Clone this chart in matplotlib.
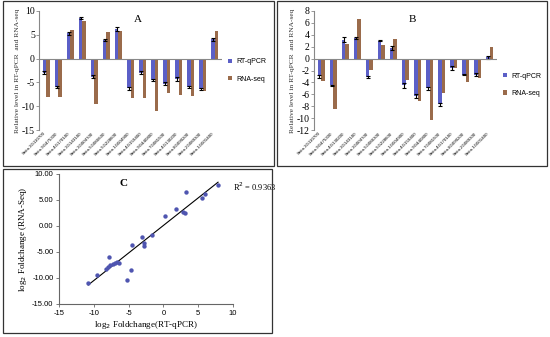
import numpy as np
import matplotlib
matplotlib.use("Agg")
import matplotlib.pyplot as plt
from matplotlib.patches import Rectangle

# gene ids (rotated tick labels, too small to read exactly in the source)
genes_a = ["Seita.3G110700", "Seita.9G475300", "Seita.4G170100", "Seita.3G143100",
           "Seita.3G004700", "Seita.5G086600", "Seita.5G228600", "Seita.1G004900",
           "Seita.4G159400", "Seita.9G440800", "Seita.7G081500", "Seita.4G130200",
           "Seita.8G090200", "Seita.2G089300", "Seita.1G001400"]
genes_b = ["Seita.3G110700", "Seita.9G475300", "Seita.4G130200", "Seita.3G143100",
           "Seita.3G004700", "Seita.5G086300", "Seita.5G228600", "Seita.1G004900",
           "Seita.4G159400", "Seita.9G440800", "Seita.7G081500", "Seita.4G170100",
           "Seita.8G090200", "Seita.2G089300", "Seita.1G001400"]

qpcr_a = [-3.0, -6.0, 5.3, 8.5, -3.8, 4.0, 6.2, -6.2, -3.0, -4.5, -5.3, -4.3, -6.0, -6.4, 4.1]
rnaseq_a = [-8.0, -8.0, 6.1, 7.8, -9.5, 5.5, 5.7, -8.3, -8.2, -11.0, -7.2, -7.6, -7.9, -6.9, 5.7]
err_a = [0.3, 0.2, 0.3, 0.2, 0.3, 0.2, 0.4, 0.3, 0.3, 0.3, 0.3, 0.4, 0.2, 0.2, 0.3]

qpcr_b = [-3.0, -4.5, 3.2, 3.5, -3.1, 3.0, 1.8, -4.5, -6.3, -5.0, -7.7, -1.6, -2.7, -2.7, 0.2]
rnaseq_b = [-3.8, -8.4, 2.5, 6.7, -1.9, 2.3, 3.3, -3.6, -7.2, -10.4, -5.8, -1.6, -3.9, -3.2, 2.0]
err_b = [0.2, 0.1, 0.4, 0.2, 0.2, 0.1, 0.4, 0.4, 0.3, 0.3, 0.3, 0.3, 0.1, 0.2, 0.3]

# panel C scatter: log2 fold change RT-qPCR vs RNA-seq
fc_qpcr = [7.85, 3.3, 5.5, 6.0, 1.75, 0.2, 2.85, 3.1, -3.1, -1.6, -2.8, -2.8, -4.5,
           -7.75, -4.7, -5.2, -10.8, -9.55, -8.3, -8.0, -7.65, -7.3, -7.0, -6.7, -6.4]
fc_rnaseq = [7.95, 6.6, 5.45, 6.1, 3.2, 2.0, 2.65, 2.5, -2.05, -1.65, -3.2, -3.85, -3.7,
             -5.9, -8.5, -10.4, -11.0, -9.5, -8.2, -7.85, -7.5, -7.3, -7.2, -6.9, -7.1]
r2_text = "R$^2$ = 0.9363"

blue = "#5B5FC7"
brown = "#9A6B4B"
serif = "Liberation Serif"
sans = "Liberation Sans"

W, H = 550, 337
fig = plt.figure(figsize=(5.5, 3.37), dpi=100)


def px_axes(left, top, right, bottom):
    return fig.add_axes([left / W, 1 - bottom / H, (right - left) / W, (bottom - top) / H])


# panel frames
for (x0, y0, x1, y1) in [(3, 1, 274, 166), (277, 1, 547, 166), (3, 169, 272, 333)]:
    fig.patches.append(Rectangle((x0 / W, 1 - y1 / H), (x1 - x0) / W, (y1 - y0) / H,
                                 transform=fig.transFigure, fill=False,
                                 edgecolor="#333333", linewidth=0.9))


def bar_panel(ax, genes, q, r, err, ylim, yticks, title, leg_y):
    x = np.arange(len(genes))
    w = 0.29
    ax.bar(x - w / 2, q, w, color=blue, label="RT-qPCR",
           yerr=err, error_kw=dict(ecolor="black", elinewidth=0.8, capsize=1.2, capthick=0.8))
    ax.bar(x + w / 2, r, w, color=brown, label="RNA-seq")
    ax.set_xlim(-0.6, len(genes) - 0.4)
    ax.set_ylim(*ylim)
    ax.set_yticks(yticks)
    ax.set_yticklabels([str(t) for t in yticks], family=serif, fontsize=7)
    ax.axhline(0, color="#888888", lw=0.8)
    for s in ["top", "right", "bottom"]:
        ax.spines[s].set_visible(False)
    ax.spines["left"].set_color("#888888")
    ax.tick_params(axis="y", length=2, width=0.6, color="#888888", pad=1)
    ax.set_xticks(x)
    ax.set_xticklabels(genes, rotation=45, ha="right", va="top", fontsize=3.2, family=sans)
    ax.tick_params(axis="x", length=0, pad=1)
    ax.set_ylabel("Relative level in RT-qPCR  and RNA-seq", family=serif, fontsize=5.4,
                  color="#333333", labelpad=1)
    ax.text(0.54, 0.97, title, transform=ax.transAxes, family=serif, fontsize=8,
            ha="center", va="top")
    ax.legend(loc="center left", bbox_to_anchor=(1.0, leg_y), frameon=False,
              prop=dict(family=sans, size=5), handlelength=0.6, handleheight=0.6,
              labelspacing=1.5, handletextpad=0.5)


axA = px_axes(39, 11, 222, 130)
bar_panel(axA, genes_a, qpcr_a, rnaseq_a, err_a, (-15, 10), [10, 5, 0, -5, -10, -15], "A", 0.50)

axB = px_axes(314, 11, 497, 130)
bar_panel(axB, genes_b, qpcr_b, rnaseq_b, err_b, (-12, 8),
          [8, 6, 4, 2, 0, -2, -4, -6, -8, -10, -12], "B", 0.38)

# panel C
axC = px_axes(59, 174, 233, 304)
axC.scatter(fc_qpcr, fc_rnaseq, s=10, color="#4F55B0", zorder=3, linewidths=0)
slope, icpt = np.polyfit(fc_qpcr, fc_rnaseq, 1)
xs = np.array([min(fc_qpcr), max(fc_qpcr)])
axC.plot(xs, slope * xs + icpt, color="black", lw=0.8)
axC.set_xlim(-15, 10)
axC.set_ylim(-15, 10)
axC.set_xticks([-15, -10, -5, 0, 5, 10])
axC.set_yticks([10, 5, 0, -5, -10, -15])
axC.set_yticklabels(["%.2f" % t for t in [10, 5, 0, -5, -10, -15]], family=sans, fontsize=5.5)
axC.set_xticklabels(["-15", "-10", "-5", "0", "5", "10"], family=sans, fontsize=5.5)
for s in ["top", "right"]:
    axC.spines[s].set_visible(False)
for s in ["left", "bottom"]:
    axC.spines[s].set_color("#666666")
    axC.spines[s].set_linewidth(0.8)
axC.tick_params(length=2, width=0.6, color="#666666", pad=2)
axC.set_xlabel("log$_2$ Foldchange(RT-qPCR)", family=serif, fontsize=6.5, labelpad=2)
axC.set_ylabel("log$_2$ Foldchange (RNA-Seq)", family=serif, fontsize=6.5, labelpad=2)
axC.text(0.37, 0.93, "C", transform=axC.transAxes, family=serif, fontsize=8,
         fontweight="bold", ha="center", va="center")
axC.text(1.0, 0.905, r2_text, transform=axC.transAxes, family=serif, fontsize=6,
         ha="left", va="center")

fig.savefig("out.png", dpi=100)
